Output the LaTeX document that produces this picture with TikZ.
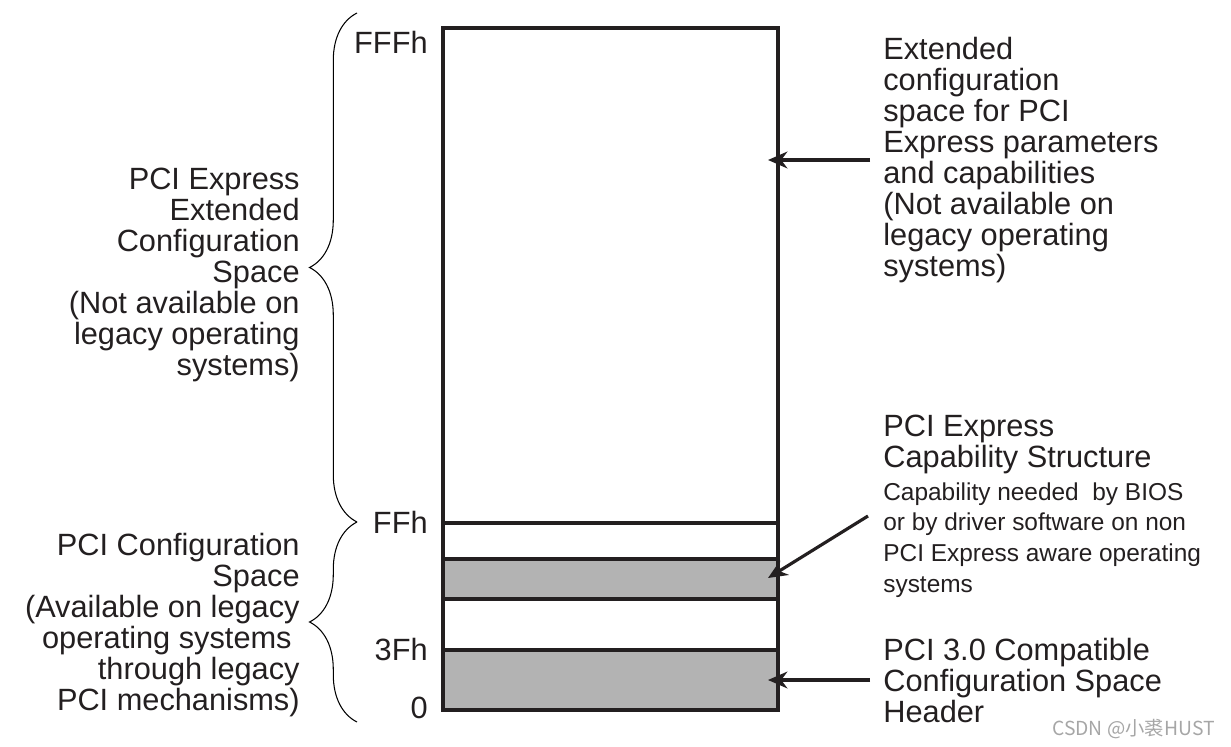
\documentclass[tikz,border=0pt]{standalone}
\usepackage{fontspec}
\setmainfont{Liberation Sans}
\newfontfamily\cjkfont{Noto Sans CJK SC}
\usetikzlibrary{arrows.meta,decorations.pathreplacing}
\definecolor{inkgray}{HTML}{231F20}
\definecolor{bandgray}{HTML}{B3B3B3}
\begin{document}
\begin{tikzpicture}[x=0.02cm,y=-0.02cm,
    bigtext/.style={font=\fontsize{17.5}{17.6}\selectfont, inner sep=0pt, text=inkgray},
    smalltext/.style={font=\fontsize{13.9}{17.6}\selectfont, inner sep=0pt, text=inkgray},
    hexlabel/.style={bigtext, anchor=east},
    boxline/.style={line width=2.1pt, draw=inkgray},
    pointer/.style={-{Stealth[length=11pt,width=9.5pt,inset=3.5pt]}, line width=1.8pt, draw=inkgray},
    curly/.style={decorate, decoration={brace, amplitude=27pt, aspect=0.5}, line width=0.6pt}]
  \useasboundingbox (0,0) rectangle (1231,747);
  % Configuration space box
  \draw[boxline, fill=bandgray] (443,650) rectangle (778,710);
  \draw[boxline, fill=bandgray] (443,559) rectangle (778,599);
  \draw[boxline, line width=1.8pt] (443,523) -- (778,523);
  \draw[boxline] (443,28) rectangle (778,710);
  % Offsets
  \node[hexlabel] (fffh) at (428,42) {FFFh};
  \node[hexlabel] (ffh) at (428,522) {FFh};
  \node[hexlabel] (threefh) at (428,650) {3Fh};
  \node[hexlabel] (zero) at (428,708) {0};
  % Braces and their labels
  \draw[curly] (357,522) -- (357,13);
  \draw[curly] (357,722) -- (357,522);
  \node[bigtext, anchor=north east, align=right] (extspace) at (300,168)
    {PCI Express\\Extended\\Configuration\\Space\\(Not available on\\legacy operating\\systems)};
  \node[bigtext, anchor=north east, align=right] (pcispace) at (300,533)
    {PCI Configuration\\Space\\(Available on legacy\\operating systems\kern0.16cm\\through legacy\\PCI mechanisms)};
  % Notes on the right
  \node[bigtext, anchor=north west, align=left] (extnote) at (883,37)
    {Extended\\configuration\\space for PCI\\Express parameters\\and capabilities\\(Not available on\\legacy operating\\systems)};
  \node[bigtext, anchor=north west, align=left] (capnote) at (883,415)
    {PCI Express\\Capability Structure};
  \node[smalltext, anchor=north west, align=left] (capdetail) at (883,482)
    {Capability needed\ \ by BIOS\\or by driver software on non\\PCI Express aware operating\\systems};
  \node[bigtext, anchor=north west, align=left] (hdrnote) at (883,638)
    {PCI 3.0 Compatible\\Configuration Space\\Header};
  % Pointers into the box
  \coordinate (extfrom) at (870,160);
  \coordinate (extto) at (768,160);
  \coordinate (capfrom) at (868,516);
  \coordinate (capto) at (768,578);
  \coordinate (hdrfrom) at (870,680);
  \coordinate (hdrto) at (768,680);
  \draw[pointer] (extfrom) -- (extto);
  \draw[pointer] (capfrom) -- (capto);
  \draw[pointer] (hdrfrom) -- (hdrto);
  % Watermark
  \node[anchor=east, inner sep=0pt, text=gray!70, font=\cjkfont\fontsize{11}{12}\selectfont] (mark) at (1215,729) {CSDN @小裘HUST};
\end{tikzpicture}
\end{document}
